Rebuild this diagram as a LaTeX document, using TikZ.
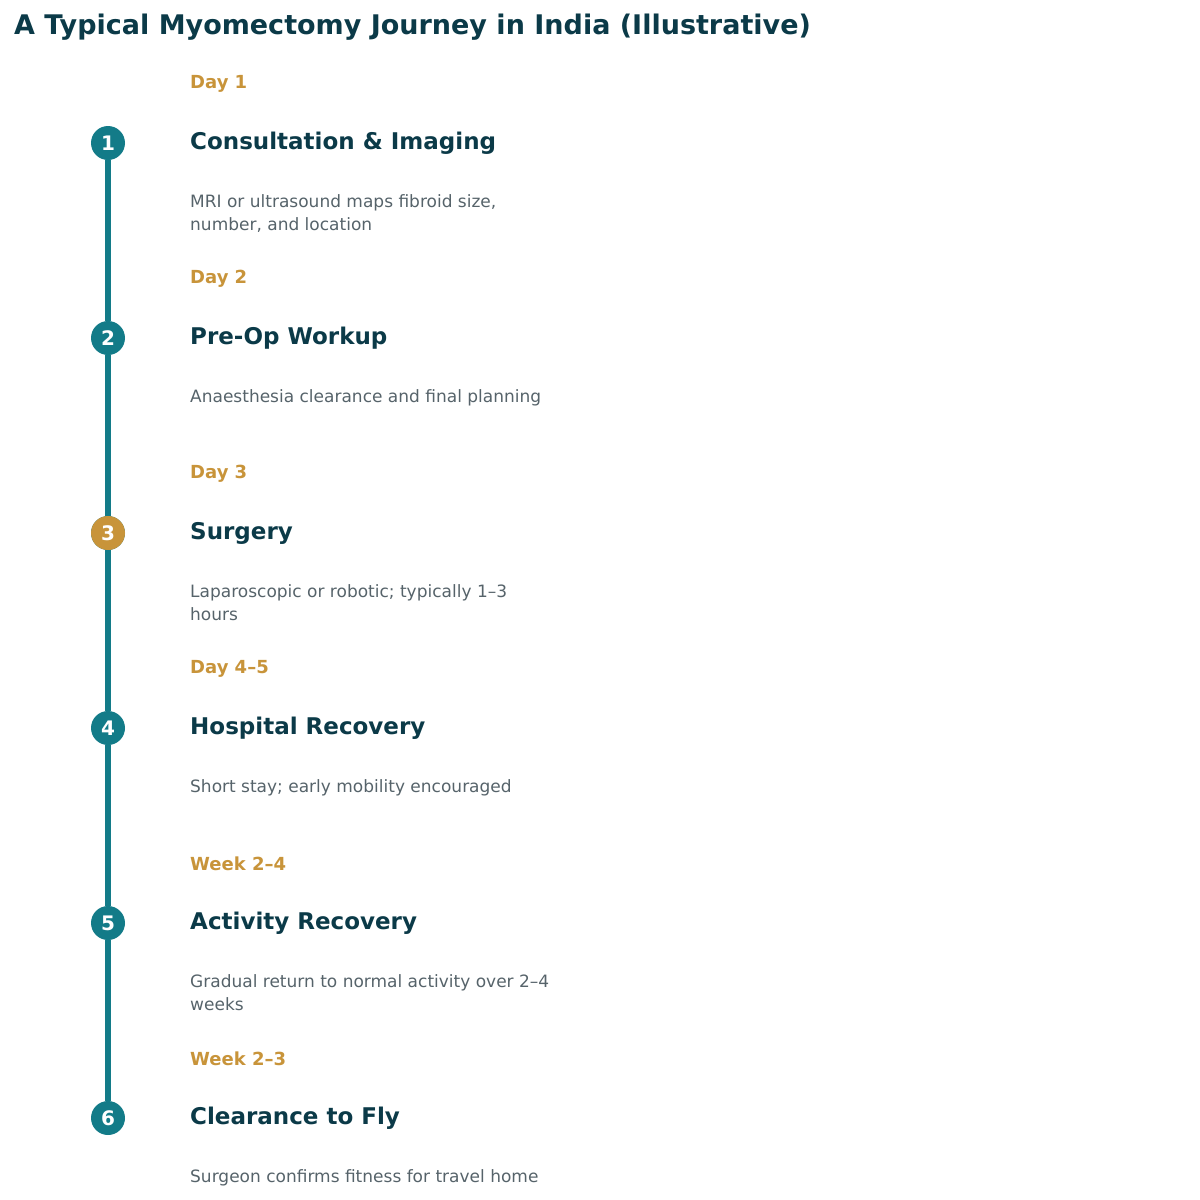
\documentclass[tikz,border=0pt]{standalone}
\usepackage{fontspec}
\setmainfont{DejaVu Sans}
\usetikzlibrary{positioning}
\definecolor{ink}{HTML}{0B3A48}
\definecolor{teal}{HTML}{137B88}
\definecolor{gold}{HTML}{C8943A}
\definecolor{slate}{HTML}{56636A}
\begin{document}
\begin{tikzpicture}[x=1pt,y=-1pt,
    stepdot/.style={circle, fill=teal, minimum size=34pt, inner sep=0pt, text=white, font=\fontsize{20}{20}\selectfont\bfseries},
    day/.style={anchor=west, text=gold, font=\fontsize{18}{18}\selectfont\bfseries, inner sep=0pt},
    head/.style={anchor=west, text=ink, font=\fontsize{23}{23}\selectfont\bfseries, inner sep=0pt},
    desc/.style={anchor=north west, text=slate, font=\fontsize{17}{23}\selectfont, inner sep=0pt, align=left},
    link/.style={teal, line width=6pt}
]
\useasboundingbox (0,0) rectangle (1200,1200);
\node[anchor=west, text=ink, font=\fontsize{27}{27}\selectfont\bfseries, inner sep=0pt] (title) at (14,27) {A Typical Myomectomy Journey in India (Illustrative)};

\foreach \i/\d/\h/\t in {
  1/Day 1/Consultation \& Imaging/{MRI or ultrasound maps fibroid size,\\number, and location},
  2/Day 2/Pre-Op Workup/{Anaesthesia clearance and final planning},
  3/Day 3/Surgery/{Laparoscopic or robotic; typically 1–3\\hours},
  4/Day 4–5/Hospital Recovery/{Short stay; early mobility encouraged},
  5/Week 2–4/Activity Recovery/{Gradual return to normal activity over 2–4\\weeks},
  6/Week 2–3/Clearance to Fly/{Surgeon confirms fitness for travel home}}{
  \pgfmathsetmacro\yy{143+195*(\i-1)}
  \node[stepdot] (s\i) at (108,\yy) {\i};
  \node[day] (d\i) at (190,\yy-59) {\d};
  \node[head] (h\i) at (190,\yy) {\h};
  \node[desc] (t\i) at (190,\yy+51) {\t};
}
\node[stepdot, fill=gold] at (s3) {3};

\foreach \i [evaluate=\i as \j using int(\i+1)] in {1,...,5}
  \draw[link] (s\i) -- (s\j);
\end{tikzpicture}
\end{document}
